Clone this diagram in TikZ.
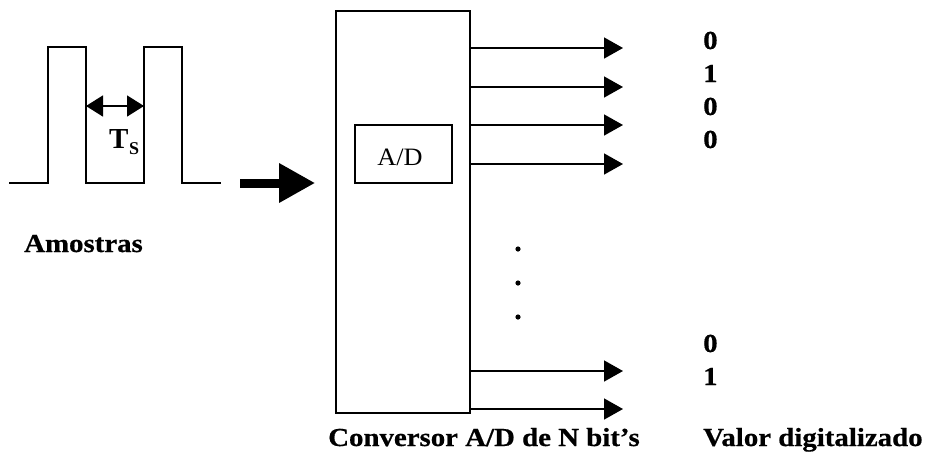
\documentclass[tikz,border=0pt]{standalone}
\usepackage{fontspec}
\setmainfont{Liberation Serif}
\newfontfamily\lblfont[FakeStretch=1.11,FakeBold=0.6]{Liberation Serif}
\newfontfamily\adfont[FakeStretch=1.05]{Liberation Serif}
\usetikzlibrary{arrows.meta}
\begin{document}
\begin{tikzpicture}[x=1pt,y=-1pt,
  lbl/.style={inner sep=0pt,anchor=base west,font=\lblfont\bfseries\fontsize{26}{26}\selectfont},
  bit/.style={lbl},
  wire/.style={line width=1.6pt},
  outarr/.style={line width=1.6pt,-{Triangle[length=19pt,width=21pt]}},
  boxstyle/.style={draw,line width=1.6pt,inner sep=0pt}]
\useasboundingbox (0,0) rectangle (930,459);
% pulse train
\draw[wire] (9,183) -- (48,183) -- (48,47) -- (86,47) -- (86,183) -- (144,183) -- (144,47) -- (182,47) -- (182,183) -- (221,183);
\coordinate (tsl) at (86,106);
\coordinate (tsr) at (144,106);
\draw[line width=1.6pt,{Triangle[length=17pt,width=21pt]}-{Triangle[length=17pt,width=21pt]}] (tsl) -- (tsr);
\node[inner sep=0pt,anchor=base west,font=\bfseries\fontsize{29}{29}\selectfont] (tT) at (109,148) {T};
\node[inner sep=0pt,anchor=base west,font=\bfseries\fontsize{18}{18}\selectfont] (tS) at (129,154) {S};
\node[lbl] (amostras) at (24,252) {Amostras};
% converter
\node[boxstyle,minimum width=134pt,minimum height=402pt] (conv) at (403,212) {};
\node[boxstyle,minimum width=97pt,minimum height=58pt] (ad) at (403.5,154) {};
\node[inner sep=0pt,anchor=base,font=\adfont\fontsize{25}{25}\selectfont] (adlbl) at (400,165) {A/D};
% input arrow
\coordinate (in) at (240,183);
\draw[line width=9pt,-{Triangle[length=36pt,width=37pt]}] (in) -- ([xshift=-20pt]conv.west |- in);
% outputs
\foreach \i/\y in {1/48,2/87,3/125,4/164,5/371,6/409}{
  \coordinate (o\i) at (623,\y);
  \draw[outarr] (conv.east |- o\i) -- (o\i);
}
\foreach \i/\y in {1/249,2/283,3/317}{
  \fill (518,\y) circle (2.6pt) node[inner sep=0pt] (dot\i) {};
}
% bits
\node[bit] (b1) at (703,49) {0};
\node[bit] (b2) at (703,82) {1};
\node[bit] (b3) at (703,115) {0};
\node[bit] (b4) at (703,148) {0};
\node[bit] (b5) at (703,352) {0};
\node[bit] (b6) at (703,385) {1};
\node[lbl] (conversor) at (328,446) {Conversor A/D de N bit’s};
\node[lbl] (valor) at (703,446) {Valor digitalizado};
\end{tikzpicture}
\end{document}
